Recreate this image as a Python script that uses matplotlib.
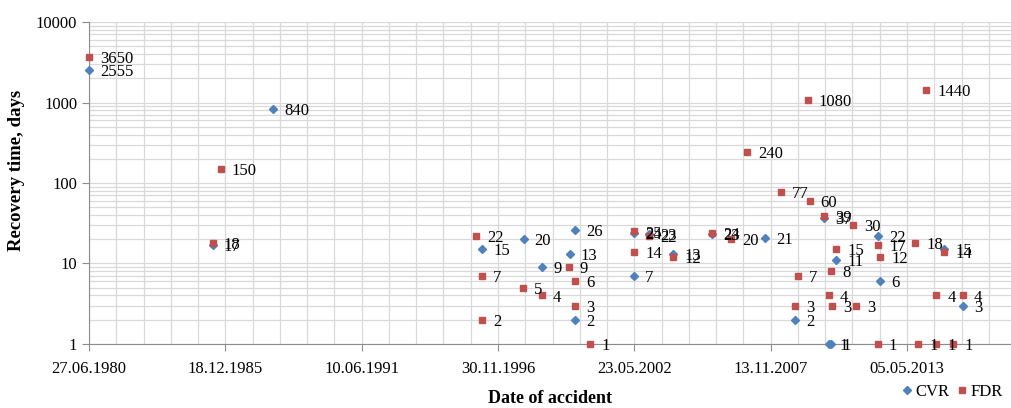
import numpy as np
import matplotlib.pyplot as plt
import matplotlib.dates as mdates
from matplotlib.ticker import FixedLocator, NullFormatter

plt.rcParams.update({
    "font.family": "Liberation Serif",
    "font.size": 12,
})

# ---------- data ----------
cvr_dates = ['1980-06-27', '1987-11-16', '1985-06-15', '1996-04-10', '1997-12-10',
             '1998-09-05', '1999-10-15', '2000-01-10', '2000-01-10', '2002-05-20',
             '2002-05-20', '2002-12-25', '2003-12-15', '2005-07-10', '2007-08-20',
             '2008-11-10', '2010-01-10', '2010-03-10', '2010-04-20', '2010-07-05',
             '2012-03-10', '2012-04-10', '2014-11-01', '2015-08-01']
cvr_days = [2555, 840, 17, 15, 20,
            9, 13, 26, 2, 24,
            7, 23, 13, 23, 21,
            2, 37, 1, 1, 11,
            22, 6, 15, 3]

fdr_dates = ['1980-06-27', '1985-10-10', '1985-06-15', '1996-01-10', '1996-04-10',
             '1996-04-10', '1997-12-05', '1998-09-05', '1999-10-05', '2000-01-10',
             '2000-01-10', '2000-08-10', '2002-05-20', '2002-05-20', '2002-12-25',
             '2003-12-15', '2005-07-10', '2006-04-15', '2006-12-05', '2008-04-10',
             '2008-11-10', '2008-12-20', '2009-05-10', '2009-06-05', '2010-01-10',
             '2010-03-10', '2010-04-15', '2010-04-25', '2010-07-05', '2011-03-05',
             '2011-04-20', '2012-03-01', '2012-03-10', '2012-04-10', '2013-09-05',
             '2013-10-15', '2014-02-10', '2014-07-05', '2014-07-05', '2014-11-05',
             '2015-03-15', '2015-08-01']
fdr_days = [3650, 150, 18, 22, 7,
            2, 5, 4, 9, 6,
            3, 1, 25, 14, 22,
            12, 24, 20, 240, 77,
            3, 7, 1080, 60, 39,
            4, 8, 3, 15, 30,
            3, 1, 17, 12, 18,
            1, 1440, 4, 1, 14,
            1, 4]

y_ticks = [1, 10, 100, 1000, 10000]
x_start = '1980-06-27'

cvr_x = mdates.date2num(np.array(cvr_dates, dtype='datetime64[D]'))
fdr_x = mdates.date2num(np.array(fdr_dates, dtype='datetime64[D]'))
x0 = mdates.date2num(np.datetime64(x_start))

# ---------- figure ----------
fig = plt.figure(figsize=(10.11, 4.08), dpi=100)
ax = fig.add_axes([0.088, 0.157, 0.912, 0.789])

ax.plot(cvr_x, cvr_days, linestyle='none', marker='D', markersize=3.6,
        color='#4F81BD', label='CVR', zorder=3, clip_on=False)
ax.plot(fdr_x, fdr_days, linestyle='none', marker='s', markersize=5,
        color='#C0504D', label='FDR', zorder=4, clip_on=False)

# data labels, Excel style (right of the point)
for xs, ys in ((cvr_x, cvr_days), (fdr_x, fdr_days)):
    for xv, yv in zip(xs, ys):
        ax.annotate(str(yv), (xv, yv), xytext=(8, -1.5), textcoords='offset points',
                    ha='left', va='center', fontsize=12, zorder=5,
                    annotation_clip=False)

# ---------- axes ----------
ax.set_yscale('log')
ax.set_ylim(1, 10000)
ax.yaxis.set_major_locator(FixedLocator(y_ticks))
ax.set_yticklabels([str(t) for t in y_ticks])
ax.yaxis.set_minor_formatter(NullFormatter())

ax.set_xlim(x0, x0 + 13525)
ax.xaxis.set_major_locator(FixedLocator(x0 + np.arange(0, 14001, 2000)))
ax.xaxis.set_minor_locator(FixedLocator(x0 + np.arange(0, 14001, 400)))
ax.xaxis.set_major_formatter(mdates.DateFormatter('%d.%m.%Y'))

ax.grid(True, which='both', color='#D9D9D9', linewidth=0.9)
ax.set_axisbelow(True)

for side in ('top', 'right'):
    ax.spines[side].set_visible(False)
for side in ('left', 'bottom'):
    ax.spines[side].set_color('#8C8C8C')
ax.tick_params(which='major', length=5, color='#8C8C8C', labelsize=12)
ax.tick_params(axis='x', which='major', pad=7)
ax.tick_params(which='minor', length=0)

ax.set_xlabel('Date of accident', fontsize=13, fontweight='bold', labelpad=10)
ax.set_ylabel('Recovery time, days', fontsize=13.5, fontweight='bold')
ax.yaxis.set_label_coords(-0.069, 0.54)

fig.legend(loc='center left', bbox_to_anchor=(0.893, 0.04), ncol=2, frameon=False,
           handlelength=0.5, handletextpad=0.25, columnspacing=0.5, fontsize=12,
           borderaxespad=0, borderpad=0)

plt.savefig('out.png', dpi=100)
